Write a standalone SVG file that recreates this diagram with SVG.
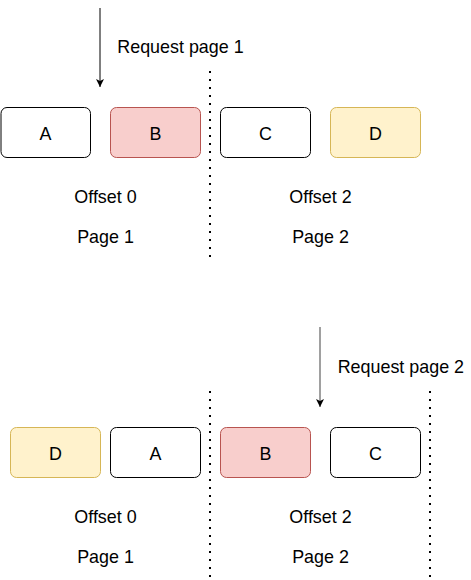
<svg xmlns="http://www.w3.org/2000/svg" width="471" height="580" viewBox="0 0 471 580">
<style>
text{font-family:"Liberation Sans",Arial,sans-serif;font-size:17.9px;fill:#000}
.c{text-anchor:middle}
.box{fill:#fff;stroke:#000;stroke-width:1}
.red{fill:#f8cecc;stroke:#b85450;stroke-width:1}
.yel{fill:#fff2cc;stroke:#d6b656;stroke-width:1}
.dot{stroke:#000;stroke-width:2;stroke-dasharray:2 6;fill:none}
</style>
<defs>
<marker id="ah" viewBox="0 0 8 8" refX="8" refY="4" markerWidth="8" markerHeight="8" markerUnits="userSpaceOnUse" orient="auto">
<path d="M0,0 L8,4 L0,8 L2,4 Z" fill="#000"/>
</marker>
</defs>
<g id="connectors">
<line x1="100" y1="8" x2="100" y2="87" stroke="#000" stroke-width="1" marker-end="url(#ah)"/>
<line x1="320" y1="327" x2="320" y2="407" stroke="#808080" stroke-width="1.5" marker-end="url(#ah)"/>
</g>
<g id="dividers">
<line class="dot" x1="210" y1="71" x2="210" y2="259"/>
<line class="dot" x1="210" y1="391" x2="210" y2="579"/>
<line class="dot" x1="430" y1="391" x2="430" y2="579"/>
</g>
<g id="req1"><text x="117.3" y="53.3">Request page 1</text></g>
<g id="req2"><text x="337.7" y="373.3">Request page 2</text></g>
<g id="top-A"><rect class="box" x="1" y="107.5" width="89.5" height="50" rx="6"/><text class="c" x="45.5" y="139.5">A</text></g>
<g id="top-B"><rect class="red" x="110.5" y="107.5" width="90" height="50" rx="6"/><text class="c" x="155.5" y="139.5">B</text></g>
<g id="top-C"><rect class="box" x="220.5" y="107.5" width="90" height="50" rx="6"/><text class="c" x="265.5" y="139.5">C</text></g>
<g id="top-D"><rect class="yel" x="330.5" y="107.5" width="90" height="50" rx="6"/><text class="c" x="375.5" y="139.5">D</text></g>
<g id="top-labels">
<text class="c" x="105.5" y="203.3">Offset 0</text>
<text class="c" x="105.5" y="243.3">Page 1</text>
<text class="c" x="320.5" y="203.3">Offset 2</text>
<text class="c" x="320.5" y="243.3">Page 2</text>
</g>
<g id="bot-D"><rect class="yel" x="10.5" y="427.5" width="90" height="50" rx="6"/><text class="c" x="55.5" y="459.5">D</text></g>
<g id="bot-A"><rect class="box" x="110.5" y="427.5" width="90" height="50" rx="6"/><text class="c" x="155.5" y="459.5">A</text></g>
<g id="bot-B"><rect class="red" x="220.5" y="427.5" width="90" height="50" rx="6"/><text class="c" x="265.5" y="459.5">B</text></g>
<g id="bot-C"><rect class="box" x="330.5" y="427.5" width="90" height="50" rx="6"/><text class="c" x="375.5" y="459.5">C</text></g>
<g id="bot-labels">
<text class="c" x="105.5" y="523.3">Offset 0</text>
<text class="c" x="105.5" y="563.3">Page 1</text>
<text class="c" x="320.5" y="523.3">Offset 2</text>
<text class="c" x="320.5" y="563.3">Page 2</text>
</g>
</svg>
